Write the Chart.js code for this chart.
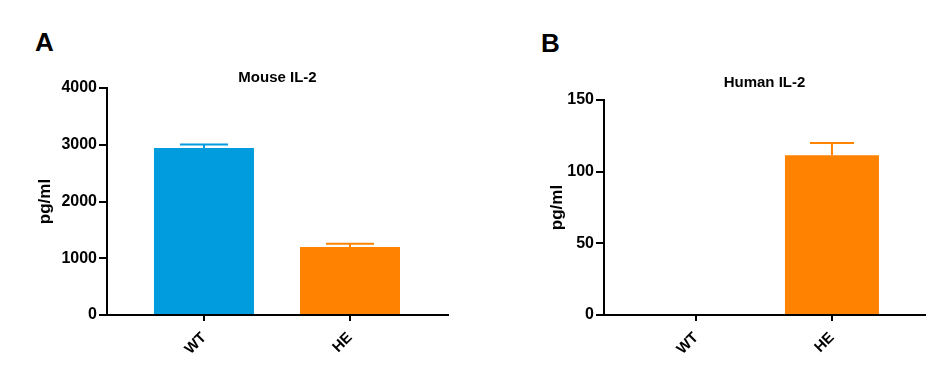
<!DOCTYPE html>
<html>
<head>
<meta charset="utf-8">
<script src="https://cdn.jsdelivr.net/npm/chart.js@4.4.1/dist/chart.umd.min.js"></script>
<style>
  body { margin: 0; background: #fff; }
  .panel { position: absolute; top: 0; width: 475px; height: 373px; }
  .letter { position: absolute; font: bold 26px "Liberation Sans", Arial, sans-serif; color: #000; }
</style>
</head>
<body>
<div class="letter" style="left:35px; top:27px;">A</div>
<div class="letter" style="left:541px; top:28px;">B</div>
<div class="panel" style="left:0"><canvas id="mouse"></canvas></div>
<div class="panel" style="left:475px"><canvas id="human"></canvas></div>
<script>
// categorias y valores (media + error estándar)
const categories = ['WT', 'HE'];
const barColors = ['#009CDE', '#FF8200'];

const mouseValues = [2943, 1200];
const mouseErrors = [62, 56];

const humanValues = [0, 111.5];
const humanErrors = [0, 8.5];

Chart.defaults.color = '#000';
Chart.defaults.font.family = '"Liberation Sans", Arial, sans-serif';
Chart.defaults.font.weight = 'bold';

// barras de error (solo la parte superior, como en Prism)
const errorBars = {
  id: 'errorBars',
  afterDatasetsDraw(chart) {
    const ctx = chart.ctx;
    const yScale = chart.scales.y;
    const ds = chart.data.datasets[0];
    const meta = chart.getDatasetMeta(0);
    ctx.save();
    ctx.lineWidth = 2;
    meta.data.forEach((bar, i) => {
      const v = ds.data[i].y, e = ds.errors[i];
      if (!e) return;
      const yTop = yScale.getPixelForValue(v + e);
      const yBase = yScale.getPixelForValue(v);
      const half = ds.capWidth / 2;
      ctx.strokeStyle = ds.backgroundColor[i];
      ctx.beginPath();
      ctx.moveTo(bar.x, yBase);
      ctx.lineTo(bar.x, yTop);
      ctx.moveTo(bar.x - half, yTop);
      ctx.lineTo(bar.x + half, yTop);
      ctx.stroke();
    });
    ctx.restore();
  }
};

function makeChart(id, cfg) {
  new Chart(document.getElementById(id), {
    type: 'bar',
    data: {
      datasets: [{
        data: cfg.values.map((v, i) => ({ x: i, y: v })),
        errors: cfg.errors,
        capWidth: cfg.capWidth,
        backgroundColor: barColors,
        borderWidth: 0,
        inflateAmount: 0,
        barThickness: cfg.barWidth
      }]
    },
    plugins: [errorBars],
    options: {
      responsive: true,
      maintainAspectRatio: false,
      animation: false,
      layout: { padding: { top: 0, right: cfg.padRight, bottom: 0, left: 0 } },
      plugins: {
        legend: { display: false },
        tooltip: { enabled: false },
        title: {
          display: true,
          text: cfg.title,
          fullSize: false,
          font: { size: 15, weight: 'bold' },
          padding: cfg.titlePad
        }
      },
      scales: {
        x: {
          type: 'linear',
          offset: false,
          min: cfg.xMin,
          max: cfg.xMax,
          afterBuildTicks: s => { s.ticks = categories.map((c, i) => ({ value: i })); },
          afterFit: s => { s.height = 58; },
          ticks: {
            callback: v => categories[v],
            minRotation: 45,
            maxRotation: 45,
            autoSkip: false,
            padding: 8,
            font: { size: 15, weight: 'bold' }
          },
          grid: { offset: false, drawOnChartArea: false, drawTicks: true, tickLength: 6, color: '#000', lineWidth: 2 },
          border: { display: true, color: '#000', width: 2 }
        },
        y: {
          min: 0,
          max: cfg.yMax,
          afterFit: s => { s.width = cfg.yWidth; },
          ticks: { stepSize: cfg.yStep, padding: 2, callback: v => String(v), font: { size: 16, weight: 'bold' } },
          grid: { drawOnChartArea: false, drawTicks: true, tickLength: 8, color: '#000', lineWidth: 2 },
          border: { display: true, color: '#000', width: 2 },
          title: {
            display: true,
            text: 'pg/ml',
            font: { size: 17, weight: 'bold' },
            padding: { top: cfg.yTitleOffset, bottom: 0 }
          }
        }
      }
    }
  });
}

makeChart('mouse', {
  title: 'Mouse IL-2',
  values: mouseValues, errors: mouseErrors,
  yMax: 4000, yStep: 1000,
  barWidth: 100, capWidth: 48,
  xMin: -0.664, xMax: 1.671,
  yWidth: 107, padRight: 27,
  titlePad: { top: 69, bottom: 1 },
  yTitleOffset: 34.8
});

makeChart('human', {
  title: 'Human IL-2',
  values: humanValues, errors: humanErrors,
  yMax: 150, yStep: 50,
  barWidth: 94, capWidth: 44,
  xMin: -0.676, xMax: 1.684,
  yWidth: 129, padRight: 25,
  titlePad: { top: 74, bottom: 8 },
  yTitleOffset: 71.8
});
</script>
</body>
</html>
